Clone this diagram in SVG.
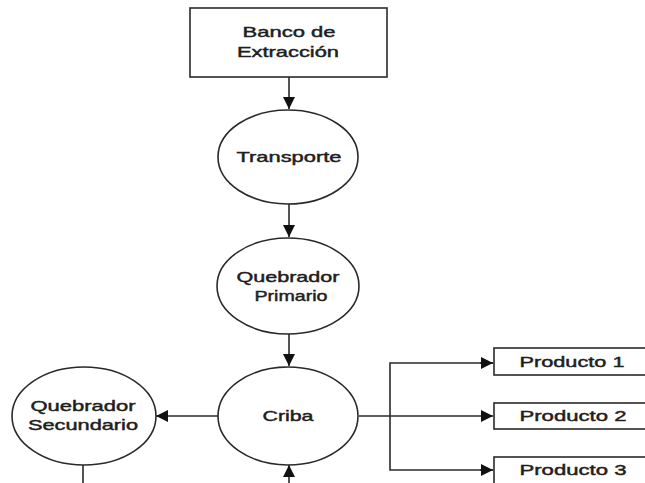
<svg xmlns="http://www.w3.org/2000/svg" width="645" height="483" viewBox="0 0 645 483">
<defs>
<style>
.n{fill:#fff;stroke:#2a2a2a;stroke-width:1.6}
.c{fill:none;stroke:#2a2a2a;stroke-width:1.6}
.t{font-family:"Liberation Sans",Arial,sans-serif;font-size:15px;fill:#1e1e1e;stroke:#1e1e1e;stroke-width:0.45;text-anchor:middle}
</style>
<marker id="ah" viewBox="0 0 10 10" refX="10" refY="5" markerWidth="12" markerHeight="12" markerUnits="userSpaceOnUse" orient="auto">
<path d="M0,0 L10,5 L0,10 z" fill="#111"/>
</marker>
</defs>
<rect width="645" height="483" fill="#fff"/>
<g id="connectors">
<line class="c" x1="289" y1="77" x2="289" y2="109" marker-end="url(#ah)"/>
<line class="c" x1="289" y1="204" x2="289" y2="237" marker-end="url(#ah)"/>
<line class="c" x1="289" y1="334" x2="289" y2="366" marker-end="url(#ah)"/>
<line class="c" x1="218" y1="416" x2="156" y2="416" marker-end="url(#ah)"/>
<line class="c" x1="83" y1="465" x2="83" y2="483"/>
<line class="c" x1="289" y1="483" x2="289" y2="465" marker-end="url(#ah)"/>
<line class="c" x1="359" y1="416" x2="493" y2="416" marker-end="url(#ah)"/>
<polyline class="c" points="493,363 390,363 390,470 493,470"/>
<line class="c" x1="480" y1="363" x2="493" y2="363" marker-end="url(#ah)"/>
<line class="c" x1="480" y1="470" x2="493" y2="470" marker-end="url(#ah)"/>
</g>
<g id="banco">
<rect class="n" x="190" y="8" width="197" height="69"/>
<text class="t" x="289" y="37" textLength="93" lengthAdjust="spacingAndGlyphs">Banco de</text>
<text class="t" x="288" y="57" textLength="102" lengthAdjust="spacingAndGlyphs">Extracción</text>
</g>
<g id="transporte">
<ellipse class="n" cx="288" cy="157" rx="70" ry="47"/>
<text class="t" x="289" y="162" textLength="105" lengthAdjust="spacingAndGlyphs">Transporte</text>
</g>
<g id="primario">
<ellipse class="n" cx="288" cy="286" rx="71" ry="48"/>
<text class="t" x="288" y="282" textLength="103" lengthAdjust="spacingAndGlyphs">Quebrador</text>
<text class="t" x="291" y="301" textLength="73" lengthAdjust="spacingAndGlyphs">Primario</text>
</g>
<g id="criba">
<ellipse class="n" cx="288" cy="416" rx="70" ry="49"/>
<text class="t" x="288" y="421" textLength="51" lengthAdjust="spacingAndGlyphs">Criba</text>
</g>
<g id="secundario">
<ellipse class="n" cx="84" cy="416" rx="72" ry="49"/>
<text class="t" x="83" y="411" textLength="105" lengthAdjust="spacingAndGlyphs">Quebrador</text>
<text class="t" x="83" y="430" textLength="110" lengthAdjust="spacingAndGlyphs">Secundario</text>
</g>
<g id="producto1">
<rect class="n" x="494" y="348" width="160" height="27"/>
<text class="t" x="572" y="367" textLength="105" lengthAdjust="spacingAndGlyphs">Producto 1</text>
</g>
<g id="producto2">
<rect class="n" x="494" y="403" width="160" height="26"/>
<text class="t" x="573" y="421" textLength="107" lengthAdjust="spacingAndGlyphs">Producto 2</text>
</g>
<g id="producto3">
<rect class="n" x="494" y="457" width="160" height="40"/>
<text class="t" x="573" y="475" textLength="107" lengthAdjust="spacingAndGlyphs">Producto 3</text>
</g>
</svg>
